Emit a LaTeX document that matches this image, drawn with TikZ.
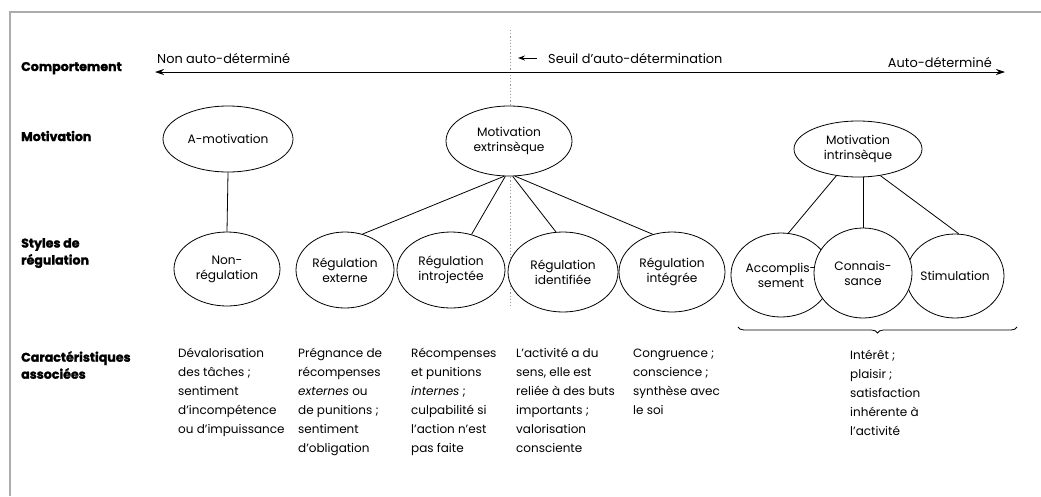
\documentclass[tikz,border=0pt]{standalone}
\usepackage{fontspec}
\setmainfont{Poppins}
\newfontfamily\heavyfont[BoldFeatures={FakeBold=1.6}]{Poppins}
\usetikzlibrary{shapes.geometric,arrows.meta,decorations.pathreplacing}
\begin{document}
\begin{tikzpicture}[x=1pt,y=-1pt,
  oval/.style={ellipse, draw, line width=0.8pt, fill=white, inner sep=0pt,
    align=center, font=\fontsize{12.2}{15}\selectfont},
  rowlabel/.style={anchor=base west, align=left, inner sep=0pt,
    font=\fontsize{12.6}{17}\selectfont\heavyfont\bfseries},
  rowlabeltwo/.style={rowlabel, anchor=north west},
  desc/.style={anchor=north west, align=left, inner sep=0pt,
    font=\fontsize{12}{19}\selectfont},
  toplabel/.style={inner sep=0pt, font=\fontsize{12.9}{15}\selectfont},
  link/.style={line width=0.8pt},
  axis/.style={line width=0.9pt, {Stealth[length=9pt,width=6pt]}-{Stealth[length=9pt,width=6pt]}},
]
\useasboundingbox (0,0) rectangle (1041,496);

% frame
\draw[gray!65, line width=1.3pt] (10,496) -- (10,12) -- (1041,12);

% threshold of self-determination
\draw[gray!80, line width=0.5pt, dash pattern=on 1.2pt off 2pt] (510,30) -- (510,308);

% behaviour axis
\coordinate (axL) at (155,72);
\coordinate (axR) at (1005,72);
\draw[axis] (axL) -- (axR);
\node[toplabel, anchor=base west] (nonad) at (157,63) {Non auto-déterminé};
\coordinate (seuilA) at (537,58);
\coordinate (seuilB) at (518,58);
\draw[line width=0.9pt, -{Stealth[length=7pt,width=5pt]}] (seuilA) -- (seuilB);
\node[toplabel, anchor=base west] (seuil) at (548,63) {Seuil d'auto-détermination};
\node[toplabel, anchor=base east] (autod) at (992,67) {Auto-déterminé};

% row labels
\node[rowlabel] (lcomp) at (21,71) {Comportement};
\node[rowlabel] (lmot) at (21,141) {Motivation};
\node[rowlabeltwo] (lstyl) at (21,238) {Styles de\\régulation};
\node[rowlabeltwo] (lcar) at (21,351) {Caractéristiques\\associées};

% motivation types
\node[oval, minimum width=130pt, minimum height=66pt] (amot) at (228,139) {A-motivation};
\node[oval, minimum width=126pt, minimum height=70pt] (mext) at (509,141) {Motivation\\extrinsèque};
\node[oval, minimum width=128pt, minimum height=56pt] (mint) at (858,149) {Motivation\\intrinsèque};

% regulation styles
\node[oval, minimum width=106pt, minimum height=74pt] (nonreg) at (227,269) {Non-\\régulation};
\node[oval, minimum width=98pt, minimum height=76pt] (rext) at (345,270) {Régulation\\externe};
\node[oval, minimum width=108pt, minimum height=76pt] (rintro) at (451,270) {Régulation\\introjectée};
\node[oval, minimum width=110pt, minimum height=80pt] (rid) at (563,272) {Régulation\\identifiée};
\node[oval, minimum width=106pt, minimum height=80pt] (rint) at (672,272) {Régulation\\intégrée};
\node[oval, minimum width=98pt, minimum height=84pt] (acc) at (781,275) {Accomplis-\\sement};
\node[oval, minimum width=96pt, minimum height=84pt] (stim) at (955,276) {Stimulation};
\node[oval, minimum width=98pt, minimum height=90pt] (conn) at (863,273) {Connais-\\sance};

% links
\draw[link] (amot.south) -- (nonreg.north);
\draw[link] (mext.262) -- (rext.64);
\draw[link] (mext.264) -- (rintro.60);
\draw[link] (mext.276) -- (rid.100);
\draw[link] (mext.280) -- (rint.117);
\draw[link] (mint.231) -- (acc.80);
\draw[link] (conn.north) -- (conn.north |- mint.south);
\draw[link] (mint.310) -- (stim.85);

% brace under the intrinsic forms
\coordinate (brR) at (1017,327);
\coordinate (brL) at (738,327);
\draw[line width=0.8pt, decorate, decoration={brace, amplitude=6pt}] (brR) -- (brL);

% associated characteristics
\node[desc] (d1) at (178,347.5) {Dévalorisation\\des tâches ;\\sentiment\\d'incompétence\\ou d'impuissance};
\node[desc] (d2) at (298,347.5) {Prégnance de\\récompenses\\\emph{externes} ou\\de punitions ;\\sentiment\\d'obligation};
\node[desc] (d3) at (411,347.5) {Récompenses\\et punitions\\\emph{internes} ;\\culpabilité si\\l'action n'est\\pas faite};
\node[desc] (d4) at (516,347.5) {L'activité a du\\sens, elle est\\reliée à des buts\\importants ;\\valorisation\\consciente};
\node[desc] (d5) at (633,348.5) {Congruence ;\\conscience ;\\synthèse avec\\le soi};
\node[desc] (d6) at (850,350) {Intérêt ;\\plaisir ;\\satisfaction\\inhérente à\\l'activité};
\end{tikzpicture}
\end{document}
